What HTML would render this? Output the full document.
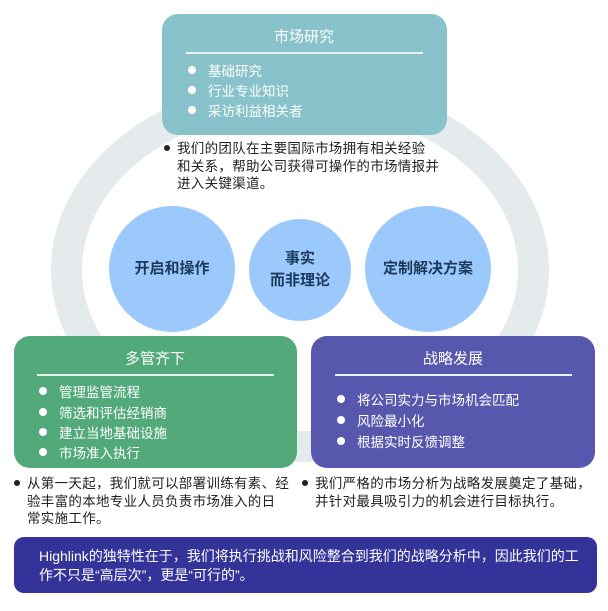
<!DOCTYPE html>
<html><head><meta charset="utf-8"><style>
*{margin:0;padding:0;box-sizing:border-box}
body{width:608px;height:611px;background:#fff;position:relative;overflow:hidden;font-family:"Liberation Sans","Noto Sans CJK SC",sans-serif}
.a{position:absolute;white-space:nowrap}
.box{position:absolute;border-radius:16px}
.t{color:#fff;font-size:15px;position:absolute;white-space:nowrap;transform:translateY(-50%)}
.ln{position:absolute;height:1.5px;background:#e8f2f2}
.b{position:absolute;width:8px;height:8px;border-radius:50%;background:#fff;transform:translate(-50%,-50%)}
.bd{position:absolute;width:6px;height:6px;border-radius:50%;background:#222;transform:translate(-50%,-50%)}
.p{position:absolute;font-size:13.5px;color:#222;line-height:17.5px;white-space:nowrap;letter-spacing:0.3px}
.c{position:absolute;border-radius:50%;background:#9cc9fb;display:flex;align-items:center;justify-content:center;text-align:center;color:#1c3a5c;font-size:15px;font-weight:bold;line-height:22px}
</style></head><body>
<div style="position:absolute;left:51px;top:78px;width:498px;height:384px;border-radius:50%;border:31px solid #e5eaed"></div>
<div style="position:absolute;left:0;top:468px;width:608px;height:140px;background:#fff"></div>

<div class="box" style="left:162px;top:14px;width:285px;height:121px;background:#88c3cb"></div>
<div class="t" style="left:304px;top:36px;transform:translate(-50%,-50%)">市场研究</div>
<div class="ln" style="left:186px;top:52px;width:237px"></div>
<div class="b" style="left:192px;top:70px"></div><div class="t" style="left:208px;top:70px;font-size:13.5px">基础研究</div>
<div class="b" style="left:192px;top:90px"></div><div class="t" style="left:208px;top:90px;font-size:13.5px">行业专业知识</div>
<div class="b" style="left:192px;top:110px"></div><div class="t" style="left:208px;top:110px;font-size:13.5px">采访利益相关者</div>
<div class="bd" style="left:167px;top:148px"></div>
<div class="p" style="left:177px;top:140px">我们的团队在主要国际市场拥有相关经验<br>和关系，帮助公司获得可操作的市场情报并<br>进入关键渠道。</div>

<div class="c" style="left:109px;top:206px;width:126px;height:126px">开启和操作</div>
<div class="c" style="left:249px;top:219px;width:102px;height:102px">事实<br>而非理论</div>
<div class="c" style="left:365px;top:206px;width:126px;height:126px">定制解决方案</div>

<div class="box" style="left:14px;top:336px;width:283px;height:132px;background:#52aa7a"></div>
<div class="t" style="left:155px;top:358px;transform:translate(-50%,-50%)">多管齐下</div>
<div class="ln" style="left:37px;top:374px;width:237px"></div>
<div class="b" style="left:43px;top:391px"></div><div class="t" style="left:59px;top:391px;font-size:13.5px">管理监管流程</div>
<div class="b" style="left:43px;top:412px"></div><div class="t" style="left:59px;top:412px;font-size:13.5px">筛选和评估经销商</div>
<div class="b" style="left:43px;top:432px"></div><div class="t" style="left:59px;top:432px;font-size:13.5px">建立当地基础设施</div>
<div class="b" style="left:43px;top:452px"></div><div class="t" style="left:59px;top:452px;font-size:13.5px">市场准入执行</div>

<div class="box" style="left:311px;top:336px;width:284px;height:132px;background:#5757ae"></div>
<div class="t" style="left:453px;top:358px;transform:translate(-50%,-50%)">战略发展</div>
<div class="ln" style="left:335px;top:374px;width:237px"></div>
<div class="b" style="left:341px;top:399px"></div><div class="t" style="left:357px;top:399px;font-size:13.5px">将公司实力与市场机会匹配</div>
<div class="b" style="left:341px;top:420px"></div><div class="t" style="left:357px;top:420px;font-size:13.5px">风险最小化</div>
<div class="b" style="left:341px;top:441px"></div><div class="t" style="left:357px;top:441px;font-size:13.5px">根据实时反馈调整</div>

<div class="bd" style="left:17px;top:483px"></div>
<div class="p" style="left:27px;top:475px">从第一天起，我们就可以部署训练有素、经<br>验丰富的本地专业人员负责市场准入的日<br>常实施工作。</div>
<div class="bd" style="left:305px;top:483px"></div>
<div class="p" style="left:315px;top:475px">我们严格的市场分析为战略发展奠定了基础，<br>并针对最具吸引力的机会进行目标执行。</div>

<div class="box" style="left:14px;top:537px;width:583px;height:56px;background:#33339a;border-radius:10px"></div>
<div class="p" style="left:39px;top:547px;color:#fff;font-size:14px;line-height:19px;letter-spacing:0">Highlink的独特性在于，我们将执行挑战和风险整合到我们的战略分析中，因此我们的工<br>作不只是“高层次”，更是“可行的”。</div>
</body></html>
